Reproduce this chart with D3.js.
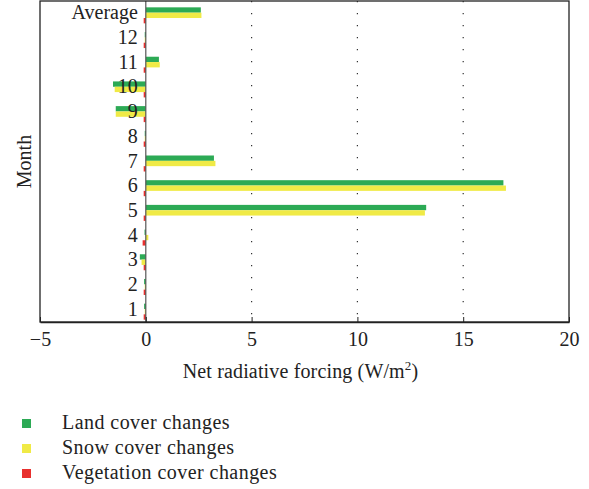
<!DOCTYPE html>
<html>
<head>
<meta charset="utf-8">
<script src="https://cdn.jsdelivr.net/npm/d3@7"></script>
<style>
  body { margin: 0; background: #fff; }
  text { font-family: "Liberation Serif", "DejaVu Serif", serif; fill: #222; }
</style>
</head>
<body>
<div id="chart"></div>
<script>
// categories bottom to top
const months = ["1", "2", "3", "4", "5", "6", "7", "8", "9", "10", "11", "12", "Average"];
const landCover = [-0.08, -0.08, -0.28, -0.06, 13.25, 16.9, 3.22, -0.05, -1.42, -1.55, 0.62, -0.05, 2.6];
const snowCover = [-0.05, -0.05, -0.2, 0.12, 13.19, 17.02, 3.29, -0.05, -1.42, -1.47, 0.66, -0.05, 2.63];
const vegCover = [-0.1, -0.1, -0.1, -0.15, -0.1, -0.1, -0.1, -0.1, -0.1, -0.1, -0.1, -0.1, -0.1];
const seriesNames = ["Land cover changes", "Snow cover changes", "Vegetation cover changes"];
const colors = ["#2caa55", "#f0ea46", "#e8302e"];
const xTicks = [-5, 0, 5, 10, 15, 20];

const width = 589, height = 489;
const mLeft = 40, mRight = 569, mTop = 1, mBottom = 322;
const fs = '20px';

const svg = d3.select('#chart').append('svg')
    .attr('width', width).attr('height', height);

const x = d3.scaleLinear().domain([-5, 20]).range([mLeft, mRight]);
const y = d3.scaleBand().domain(months).range([mBottom, mTop]);
const sub = d3.scaleBand().domain([0, 1, 2]).range([-8, 8]);

// dotted grid
svg.selectAll('.grid').data([5, 10, 15]).enter().append('line')
    .attr('x1', d => x(d)).attr('x2', d => x(d))
    .attr('y1', mTop).attr('y2', mBottom)
    .attr('stroke', '#333').attr('stroke-width', 1.2)
    .attr('stroke-dasharray', '1.2,10.8');

const series = [landCover, snowCover, vegCover];
series.forEach((vals, si) => {
    svg.selectAll('.bar' + si).data(vals).enter().append('rect')
        .attr('x', d => x(Math.min(0, d)))
        .attr('width', d => Math.abs(x(d) - x(0)))
        .attr('y', (d, i) => y(months[i]) + y.bandwidth() / 2 + 2 + sub(si))
        .attr('height', sub.bandwidth())
        .attr('fill', colors[si]);
});

// zero line
svg.append('line')
    .attr('x1', x(0)).attr('x2', x(0)).attr('y1', mTop).attr('y2', mBottom)
    .attr('stroke', '#555').attr('stroke-width', 1.2);

// frame
svg.append('rect')
    .attr('x', mLeft).attr('y', mTop).attr('width', mRight - mLeft).attr('height', mBottom - mTop)
    .attr('fill', 'none').attr('stroke', '#222').attr('stroke-width', 1.3);

// x axis
const xAxis = svg.append('g').attr('transform', `translate(0,${mBottom})`)
    .call(d3.axisBottom(x).tickValues(xTicks).tickSizeInner(-5).tickSizeOuter(0)
        .tickFormat(d => d < 0 ? '\u2212' + Math.abs(d) : d));
xAxis.select('.domain').attr('stroke', '#222').attr('stroke-width', 1.3);
xAxis.selectAll('line').attr('stroke', '#222');
xAxis.selectAll('text').attr('y', 10).style('font-size', fs)
    .style('font-family', '"Liberation Serif", serif').attr('fill', '#222');

// month labels next to zero line
svg.selectAll('.ylab').data(months).enter().append('text')
    .attr('x', x(0) - 8)
    .attr('y', d => y(d) + y.bandwidth() / 2 + 6)
    .attr('text-anchor', 'end')
    .style('font-size', fs)
    .text(d => d);

// axis titles
const xt = svg.append('text')
    .attr('x', (mLeft + mRight) / 2 - 4).attr('y', 378)
    .attr('text-anchor', 'middle').style('font-size', fs)
    .style('letter-spacing', '0.15px');
xt.append('tspan').text('Net radiative forcing (W/m');
xt.append('tspan').text('2').attr('dy', -8).style('font-size', '13px');
xt.append('tspan').text(')').attr('dy', 8);

svg.append('text')
    .attr('transform', `translate(31,${(mTop + mBottom) / 2}) rotate(-90)`)
    .attr('text-anchor', 'middle').style('font-size', fs)
    .text('Month');

// legend
const legend = svg.selectAll('.legend').data(seriesNames).enter().append('g')
    .attr('transform', (d, i) => `translate(22,${423 + i * 25})`);
legend.append('rect')
    .attr('x', 0).attr('y', -4).attr('width', 9).attr('height', 9)
    .attr('fill', (d, i) => colors[i]);
legend.append('text')
    .attr('x', 40).attr('y', 6)
    .style('font-size', fs)
    .style('letter-spacing', '0.45px')
    .text(d => d);
</script>
</body>
</html>
